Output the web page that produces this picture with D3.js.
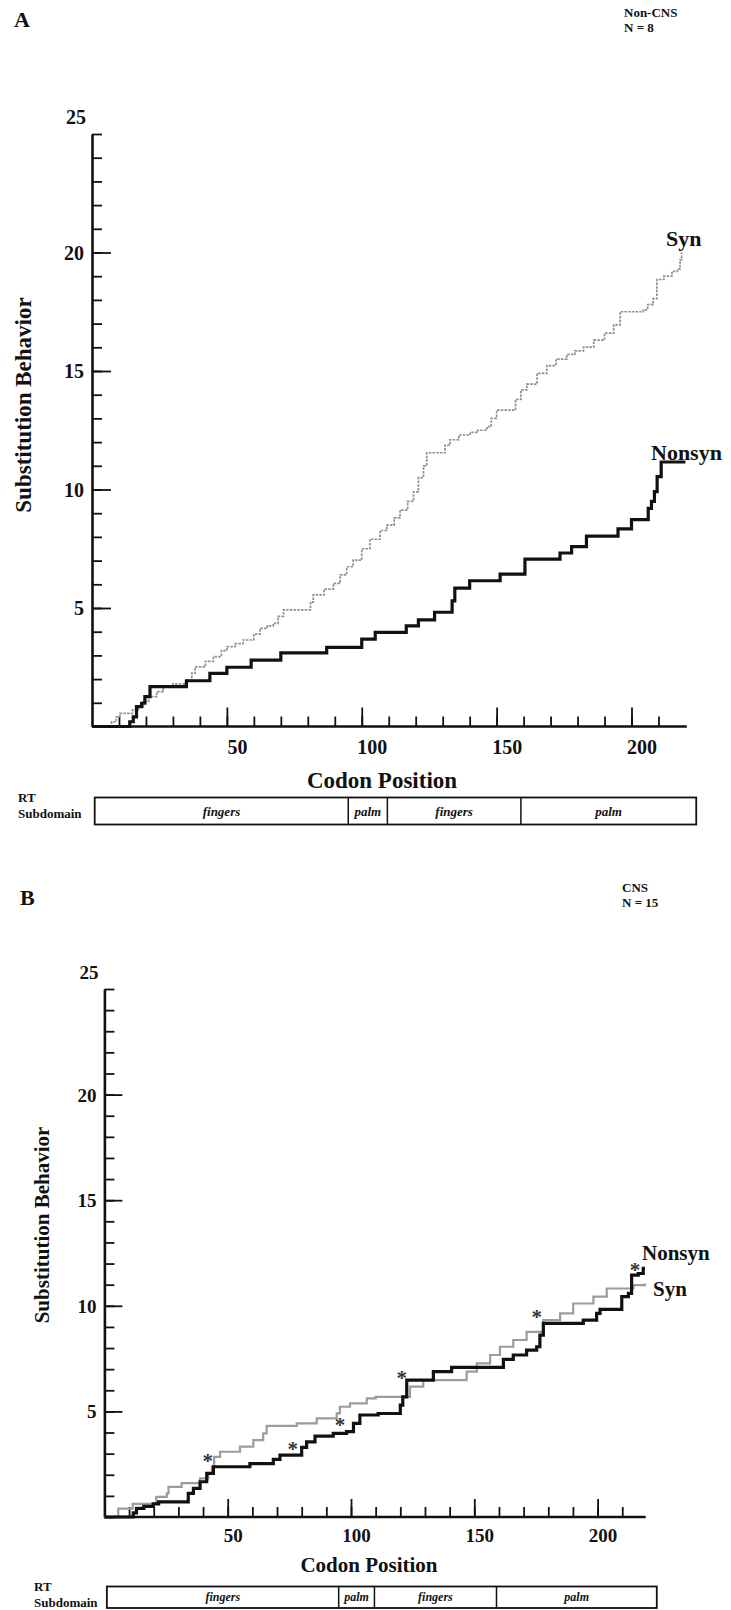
<!DOCTYPE html>
<html><head><meta charset="utf-8">
<script src="https://cdn.jsdelivr.net/npm/d3@7"></script>
<style>
html,body{margin:0;padding:0;background:#fff;}
svg{display:block;}
text{font-family:"Liberation Serif","Times New Roman",serif;font-weight:bold;fill:#111;}
</style></head>
<body>
<svg id="chart" width="731" height="1610"></svg>
<script>
// ---------- DATA ----------
const yTicksMajor = [5, 10, 15, 20];
const yTopLabel = 25;
const xTicksMajor = [50, 100, 150, 200];
const subdomainBounds = [1, 95, 109.5, 159, 224];
const subdomainNames = ["fingers", "palm", "fingers", "palm"];

// Panel A (Non-CNS, N = 8): step change points [codon, cumulative value]
const synA = [[0,0],[7.3,0.2],[9,0.41],[10.3,0.55],[15,0.7],[17.2,0.84],[19,1.05],[21,1.26],[24,1.47],[26.4,1.68],[30,1.8],[35.1,1.96],[37,2.25],[38.2,2.52],[42,2.75],[45,2.95],[48,3.2],[50,3.37],[53,3.5],[56,3.65],[60,3.9],[62.3,4.14],[65,4.25],[67.2,4.35],[69,4.65],[71,4.92],[81,5.25],[82,5.55],[86,5.8],[89.5,6.04],[92,6.4],[94.4,6.74],[96.8,7.02],[100,7.5],[103,7.9],[106.8,8.27],[109.3,8.5],[112,8.8],[114.2,9.13],[117,9.5],[119.2,9.9],[121,10.5],[122.9,11.0],[124.1,11.55],[130.9,11.87],[132.7,12.1],[136,12.3],[140.2,12.41],[143,12.5],[146.4,12.65],[148,13.0],[150,13.35],[157,13.8],[159,14.2],[161.2,14.45],[165,14.9],[168.6,15.23],[172,15.5],[176,15.7],[179,15.85],[182.2,16.01],[186,16.3],[190,16.6],[193.4,16.95],[195.8,17.5],[204.4,17.58],[206,17.8],[208,18.05],[209.4,18.86],[212,19.0],[215,19.2],[217,19.3],[218,19.7],[218.6,20.0]];
const nonsynA = [[0,0],[14,0.2],[15.3,0.41],[16.5,0.84],[18.4,0.98],[19.6,1.26],[21.5,1.68],[35,1.93],[43.7,2.24],[50,2.5],[59,2.8],[70,3.11],[87,3.34],[100,3.69],[105,3.97],[116.5,4.25],[121,4.5],[127,4.82],[133.5,5.3],[134.5,5.84],[140,6.15],[151.3,6.43],[160.5,7.06],[173.5,7.32],[177.8,7.59],[183.3,8.03],[195,8.34],[200,8.73],[206.2,9.2],[207.4,9.5],[208.5,9.91],[209.5,10.54],[211,11.16],[220,11.16]];

// Panel B (CNS, N = 15)
const synB = [[0,0],[5.6,0.4],[11.5,0.62],[21,0.95],[25.3,1.12],[26,1.43],[31.3,1.6],[38.8,1.83],[42.1,2.07],[43.6,2.38],[44.5,2.85],[46.9,3.09],[55,3.33],[60.4,3.64],[64.4,3.96],[65.8,4.31],[78,4.43],[86.1,4.67],[94.2,4.91],[95.5,5.22],[99.6,5.38],[106.4,5.62],[110,5.69],[123.9,6.17],[129.3,6.48],[146.9,6.88],[151,7.27],[156.4,7.67],[160.4,8.06],[165.8,8.38],[171.2,8.77],[178,9.32],[184.8,9.64],[190.1,10.11],[198.3,10.43],[203.7,10.82],[214.5,10.98],[219.2,11.06]];
const nonsynB = [[0,0],[11.7,0.2],[13,0.41],[16,0.5],[19.8,0.62],[22,0.72],[34,1.12],[36.1,1.36],[38.8,1.67],[41.5,2.07],[44.2,2.38],[59,2.53],[68.5,2.73],[71.2,2.93],[80,3.3],[82,3.56],[85.4,3.83],[92.8,3.96],[98.2,4.04],[101,4.43],[103.6,4.83],[111,4.9],[120,5.3],[121,5.69],[122.6,6.48],[133.4,6.88],[140.8,7.08],[161.8,7.46],[165.8,7.67],[171.2,7.9],[175.3,8.06],[176.6,8.61],[178,9.17],[194.2,9.32],[199.6,9.64],[201,9.83],[209.8,10.43],[212.5,10.59],[213.8,11.45],[216.5,11.53],[218.5,11.77],[219.2,11.77]];
const asterisksB = [[41.9,2.93],[76.4,3.49],[95.5,4.64],[120.6,6.88],[175.3,9.76],[215.2,12.0]];

// ---------- DRAW ----------
const svg = d3.select("#chart");

function panel(cfg) {
  const g = svg.append("g");
  const x = d3.scaleLinear().domain([0, 200]).range([cfg.x0, cfg.x200]);
  const y = d3.scaleLinear().domain([0, 25]).range([cfg.y0, cfg.y25]);
  const s = cfg.fs;

  g.append("text").attr("x", cfg.letterX).attr("y", cfg.letterY).style("font-size", s.letter + "px").text(cfg.letter);
  g.append("text").attr("x", cfg.groupX).attr("y", cfg.groupY).style("font-size", s.group + "px").text(cfg.group);
  g.append("text").attr("x", cfg.groupX).attr("y", cfg.groupY + s.group * 1.15).style("font-size", s.group + "px").text(cfg.n);

  const yMinor = d3.axisRight(y).tickValues(d3.range(0, 26)).tickSize(cfg.minorLen).tickFormat("").tickSizeOuter(0);
  const ya = g.append("g").attr("transform", `translate(${x(0)},0)`).call(yMinor);
  const yMajor = d3.axisRight(y).tickValues(yTicksMajor).tickSize(cfg.majorLen).tickFormat("");
  const yb = g.append("g").attr("transform", `translate(${x(0)},0)`).call(yMajor);
  yb.select(".domain").remove();
  const yl = d3.axisLeft(y).tickValues(yTicksMajor).tickSize(0).tickPadding(cfg.yLabPad);
  const ylg = g.append("g").attr("transform", `translate(${x(0)},0)`).call(yl);
  ylg.select(".domain").remove();
  ylg.selectAll("text").style("font-size", s.tick + "px").attr("dy", "0.34em");
  g.append("text").attr("x", x(0) - cfg.topLabDx).attr("y", y(yTopLabel) - cfg.topLabDy)
    .attr("text-anchor", "end").style("font-size", s.tick + "px").text(yTopLabel);

  const xMinor = d3.axisTop(x).tickValues(d3.range(10, 220, 10)).tickSize(cfg.minorLen).tickFormat("").tickSizeOuter(0);
  const xa = g.append("g").attr("transform", `translate(0,${y(0)})`).call(xMinor);
  xa.select(".domain").attr("d", `M${x(0)},0H${x(cfg.xEnd)}`);
  const xMajor = d3.axisTop(x).tickValues(xTicksMajor).tickSize(cfg.majorLen).tickFormat("");
  const xb = g.append("g").attr("transform", `translate(0,${y(0)})`).call(xMajor);
  xb.select(".domain").remove();
  const xl = d3.axisBottom(x).tickValues(xTicksMajor).tickSize(0).tickPadding(cfg.xLabPad);
  const xlg = g.append("g").attr("transform", `translate(${cfg.xLabShift},${y(0)})`).call(xl);
  xlg.select(".domain").remove();
  xlg.selectAll("text").style("font-size", s.tick + "px");

  [ya, yb, xa, xb].forEach(a => {
    a.selectAll(".tick line").attr("stroke", "#111").attr("stroke-width", 1.8);
    a.select(".domain").attr("stroke", "#111").attr("stroke-width", 2.6);
  });
  [ylg, xlg].forEach(a => a.selectAll("text").attr("fill", "#111").style("font-family", '"Liberation Serif",serif').style("font-weight", "bold"));

  g.append("text").attr("transform", `translate(${cfg.yTitleX},${cfg.yTitleY}) rotate(-90)`)
    .attr("text-anchor", "middle").attr("dy", "0.35em").style("font-size", s.title + "px").text("Substitution Behavior");
  g.append("text").attr("x", cfg.xTitleX).attr("y", cfg.xTitleY).attr("text-anchor", "middle").attr("dy", "0.35em")
    .style("font-size", s.title + "px").text("Codon Position");

  const line = d3.line().x(d => x(d[0])).y(d => y(d[1])).curve(d3.curveStepAfter);
  cfg.series.forEach(se => {
    g.append("path").datum(se.data).attr("d", line).attr("fill", "none")
      .attr("stroke", se.color).attr("stroke-width", se.width)
      .attr("stroke-dasharray", se.dash || null).attr("stroke-linejoin", "miter");
  });
  cfg.labels.forEach(l => {
    g.append("text").attr("x", l.x).attr("y", l.y).attr("dy", "0.35em").style("font-size", s.series + "px").text(l.t);
  });
  if (cfg.asterisks) {
    g.selectAll("text.ast").data(cfg.asterisks).join("text").attr("class", "ast")
      .attr("x", d => x(d[0])).attr("y", d => y(d[1])).attr("text-anchor", "middle").attr("dy", "0.62em")
      .style("font-size", s.ast + "px").style("fill", "#333").text("*");
  }

  const bt = cfg.boxTop, bb = cfg.boxBottom;
  g.append("rect").attr("x", x(subdomainBounds[0])).attr("y", bt)
    .attr("width", x(subdomainBounds[subdomainBounds.length - 1]) - x(subdomainBounds[0])).attr("height", bb - bt)
    .attr("fill", "none").attr("stroke", "#111").attr("stroke-width", 1.8);
  subdomainBounds.slice(1, -1).forEach(b => {
    g.append("line").attr("x1", x(b)).attr("x2", x(b)).attr("y1", bt).attr("y2", bb).attr("stroke", "#111").attr("stroke-width", 1.5);
  });
  subdomainNames.forEach((n, i) => {
    g.append("text").attr("x", (x(subdomainBounds[i]) + x(subdomainBounds[i + 1])) / 2).attr("y", (bt + bb) / 2)
      .attr("dy", "0.35em").attr("text-anchor", "middle").style("font-style", "italic").style("font-size", s.box + "px").text(n);
  });
  g.append("text").attr("x", cfg.rtX).attr("y", cfg.rtY).style("font-size", s.rt + "px").text("RT");
  g.append("text").attr("x", cfg.rtX).attr("y", cfg.rtY + s.rt * 1.2).style("font-size", s.rt + "px").text("Subdomain");
}

panel({
  letter: "A", letterX: 14, letterY: 27, group: "Non-CNS", n: "N = 8", groupX: 624, groupY: 17,
  x0: 92, x200: 631.5, y0: 726.5, y25: 134, xEnd: 220.5,
  minorLen: 10, majorLen: 19, yLabPad: 8, topLabDx: 6, topLabDy: 10, xLabPad: 13, xLabShift: 10,
  yTitleX: 23, yTitleY: 405, xTitleX: 382, xTitleY: 780,
  fs: {letter: 22, group: 13, tick: 20, title: 23, series: 22, box: 13, rt: 13, ast: 22},
  series: [
    {data: synA, color: "#8f8f8f", width: 1.7, dash: "2.5,1.2"},
    {data: nonsynA, color: "#111", width: 3.2}
  ],
  labels: [{x: 666, y: 238, t: "Syn"}, {x: 651, y: 452, t: "Nonsyn"}],
  boxTop: 797.5, boxBottom: 824.5, rtX: 18, rtY: 802
});

panel({
  letter: "B", letterX: 20, letterY: 905, group: "CNS", n: "N = 15", groupX: 622, groupY: 892,
  x0: 104.4, x200: 597.6, y0: 1517, y25: 989, xEnd: 219.5,
  minorLen: 10, majorLen: 18, yLabPad: 8, topLabDx: 6, topLabDy: 10, xLabPad: 12, xLabShift: 5,
  yTitleX: 42, yTitleY: 1225, xTitleX: 369, xTitleY: 1565,
  fs: {letter: 22, group: 13, tick: 19, title: 21, series: 21, box: 12, rt: 13, ast: 21},
  series: [
    {data: synB, color: "#9c9c9c", width: 2.2},
    {data: nonsynB, color: "#111", width: 3.2}
  ],
  labels: [{x: 642, y: 1253, t: "Nonsyn"}, {x: 653, y: 1289, t: "Syn"}],
  asterisks: asterisksB,
  boxTop: 1586.5, boxBottom: 1608, rtX: 34, rtY: 1591
});
</script>
</body></html>
